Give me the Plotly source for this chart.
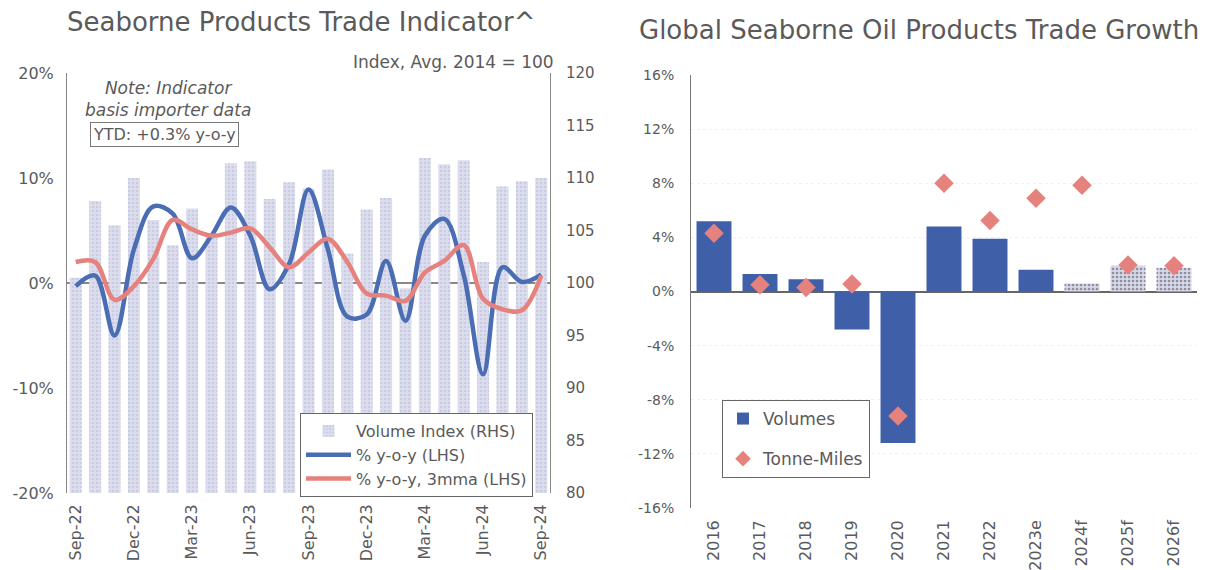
import plotly.graph_objects as go

# ---------------- data: left chart ----------------
months = ["Sep-22", "Oct-22", "Nov-22", "Dec-22", "Jan-23", "Feb-23", "Mar-23", "Apr-23",
          "May-23", "Jun-23", "Jul-23", "Aug-23", "Sep-23", "Oct-23", "Nov-23", "Dec-23",
          "Jan-24", "Feb-24", "Mar-24", "Apr-24", "May-24", "Jun-24", "Jul-24", "Aug-24", "Sep-24"]
volume_index = [100.5, 107.8, 105.5, 110.0, 106.0, 103.6, 107.1, 104.5,
                111.4, 111.6, 108.0, 109.6, 109.0, 110.8, 102.8, 107.0,
                108.1, 99.5, 111.9, 111.3, 111.7, 102.0, 109.2, 109.7, 110.0]
yoy = [-0.3, 0.7, -5.0, 3.2, 7.3, 6.6, 2.35, 4.5,
       7.2, 4.5, -0.6, 1.8, 8.9, 3.2, -3.2, -3.0,
       2.1, -3.6, 4.5, 6.1, 0.8, -8.7, 1.5, 0.1, 0.8]
yoy_3mma = [2.0, 2.0, -1.6, -0.3, 2.3, 6.0, 5.1, 4.5,
            4.8, 5.2, 3.4, 1.5, 2.9, 4.2, 2.0, -1.0,
            -1.2, -1.7, 1.0, 2.1, 3.6, -1.5, -2.5, -2.6, 0.7]
month_ticks = ["Sep-22", "Dec-22", "Mar-23", "Jun-23", "Sep-23", "Dec-23", "Mar-24", "Jun-24", "Sep-24"]
lhs_ticks = [-20, -10, 0, 10, 20]
lhs_ticktext = ["-20%", "-10%", "0%", "10%", "20%"]

# ---------------- data: right chart ----------------
years = ["2016", "2017", "2018", "2019", "2020", "2021", "2022", "2023e", "2024f", "2025f", "2026f"]
volumes = [5.2, 1.3, 0.9, -2.8, -11.2, 4.8, 3.9, 1.6, 0.6, 1.9, 1.75]
tonne_miles = [4.3, 0.5, 0.3, 0.55, -9.2, 8.0, 5.25, 6.9, 7.85, 1.95, 1.9]
is_forecast = [False] * 8 + [True] * 3
rhs_ticks = [-16, -12, -8, -4, 0, 4, 8, 12, 16]
rhs_ticktext = ["-16%", "-12%", "-8%", "-4%", "0%", "4%", "8%", "12%", "16%"]

FONT = "DejaVu Sans"
GREY = "#5a5a5a"
BLUE = "#4a6db3"
RED = "#e5827d"
BAR_DARK = "#3f5fa8"
BAR_LIGHT = "#d6d8ea"

W, H = 1224, 570
OFF = 8  # page offset of the figure inside the browser window


def px(x):
    return (x - OFF) / W


def py(y):
    return 1 - (y - OFF) / H


fig = go.Figure()

fig.add_trace(go.Bar(
    x=months, y=volume_index, name="Volume Index (RHS)",
    marker=dict(color=BAR_LIGHT, line=dict(width=0),
                pattern=dict(shape=".", fgcolor="#b3b7d6", bgcolor="#dcdeee", size=4, solidity=0.35)),
    width=0.62, xaxis="x", yaxis="y", legend="legend", legendgroup="a"))
fig.add_trace(go.Scatter(
    x=months, y=yoy, name="% y-o-y (LHS)", mode="lines",
    line=dict(color=BLUE, width=4.5, shape="spline", smoothing=1.0),
    xaxis="x", yaxis="y2", legend="legend", legendgroup="b"))
fig.add_trace(go.Scatter(
    x=months, y=yoy_3mma, name="% y-o-y, 3mma (LHS)", mode="lines",
    line=dict(color=RED, width=4.5, shape="spline", smoothing=1.0),
    xaxis="x", yaxis="y2", legend="legend", legendgroup="c"))

bar_colors = [BAR_LIGHT if f else BAR_DARK for f in is_forecast]
pat_fg = ["#b3b7d6" if f else BAR_DARK for f in is_forecast]
pat_shape = ["." if f else "" for f in is_forecast]
fig.add_trace(go.Bar(
    x=years, y=volumes, name="Volumes",
    marker=dict(color=bar_colors, line=dict(width=0),
                pattern=dict(shape=pat_shape, fgcolor=pat_fg, size=4, solidity=0.35)),
    width=0.76, xaxis="x2", yaxis="y3", legend="legend2", legendgroup="v"))
fig.add_trace(go.Scatter(
    x=years, y=tonne_miles, name="Tonne-Miles", mode="markers",
    marker=dict(symbol="diamond", color=RED, size=15),
    xaxis="x2", yaxis="y3", legend="legend2", legendgroup="t"))

fig.update_layout(
    width=W, height=H,
    margin=dict(l=0, r=0, t=0, b=0, autoexpand=False),
    paper_bgcolor="white", plot_bgcolor="rgba(0,0,0,0)",
    font=dict(family=FONT, color=GREY),
    xaxis=dict(domain=[px(67), px(550)], type="category", range=[-0.45, 24.45],
               tickmode="array", tickvals=month_ticks, ticktext=month_ticks,
               tickangle=-90, tickfont=dict(family=FONT, size=16, color=GREY),
               ticklabelstandoff=7,
               showline=False, showgrid=False, ticks="", anchor="y", automargin=False),
    yaxis=dict(domain=[py(493), py(73)], range=[80, 120], dtick=5, side="right",
               showgrid=False, showline=True, linecolor="#888", linewidth=1,
               ticks="", tickfont=dict(family=FONT, size=15, color=GREY),
               ticklabelstandoff=12,
               anchor="x", zeroline=False, automargin=False),
    yaxis2=dict(overlaying="y", side="left", range=[-20, 20],
                tickmode="array", tickvals=lhs_ticks, ticktext=lhs_ticktext,
                showgrid=False, showline=True, linecolor="#888", linewidth=1,
                ticks="", tickfont=dict(family=FONT, size=16, color=GREY),
                ticklabelstandoff=9,
                zeroline=True, zerolinecolor="#888", zerolinewidth=1.5, anchor="x",
                automargin=False),
    xaxis2=dict(domain=[px(691), px(1197)], type="category", range=[-0.5, 10.5],
                tickangle=-90, tickfont=dict(family=FONT, size=16, color=GREY),
                ticklabelstandoff=8,
                showline=False, showgrid=False, ticks="", anchor="y3", automargin=False),
    yaxis3=dict(domain=[py(508), py(75)], range=[-16, 16],
                tickmode="array", tickvals=rhs_ticks, ticktext=rhs_ticktext,
                showgrid=True, gridcolor="#f1f1f4", griddash="dot",
                showline=True, linecolor="#777", linewidth=1, ticks="",
                tickfont=dict(family=FONT, size=14, color=GREY),
                ticklabelstandoff=13,
                zeroline=True, zerolinecolor="#666", zerolinewidth=1.5, anchor="x2",
                automargin=False),
    legend=dict(x=px(300), y=py(413), xanchor="left", yanchor="top",
                bgcolor="white", bordercolor="#666", borderwidth=1,
                font=dict(family=FONT, size=16, color=GREY), itemwidth=45,
                traceorder="normal"),
    legend2=dict(x=px(722), y=py(400), xanchor="left", yanchor="top",
                 bgcolor="white", bordercolor="#666", borderwidth=1,
                 font=dict(family=FONT, size=17, color=GREY),
                 traceorder="grouped", tracegroupgap=15, itemsizing="constant"),
    showlegend=True,
)

annotations = [
    dict(text="Seaborne Products Trade Indicator^", x=px(65), y=py(22), xanchor="left", yanchor="middle",
         font=dict(family=FONT, size=26, color=GREY)),
    dict(text="Global Seaborne Oil Products Trade Growth", x=px(637), y=py(30), xanchor="left",
         yanchor="middle", font=dict(family=FONT, size=26, color=GREY)),
    dict(text="Index, Avg. 2014 = 100", x=px(556), y=py(62), xanchor="right", yanchor="middle",
         font=dict(family=FONT, size=17, color=GREY)),
    dict(text="<i>Note: Indicator<br>basis importer data</i>", x=px(168), y=py(99), xanchor="center",
         yanchor="middle", font=dict(family=FONT, size=17, color=GREY)),
    dict(text="YTD: +0.3% y-o-y", x=px(164), y=py(134), xanchor="center", yanchor="middle",
         font=dict(family=FONT, size=16, color=GREY), bordercolor="#777", borderwidth=1,
         borderpad=2, bgcolor="white"),
]
for a in annotations:
    a.update(xref="paper", yref="paper", showarrow=False)
fig.update_layout(annotations=annotations)

fig.write_html("out.html")
